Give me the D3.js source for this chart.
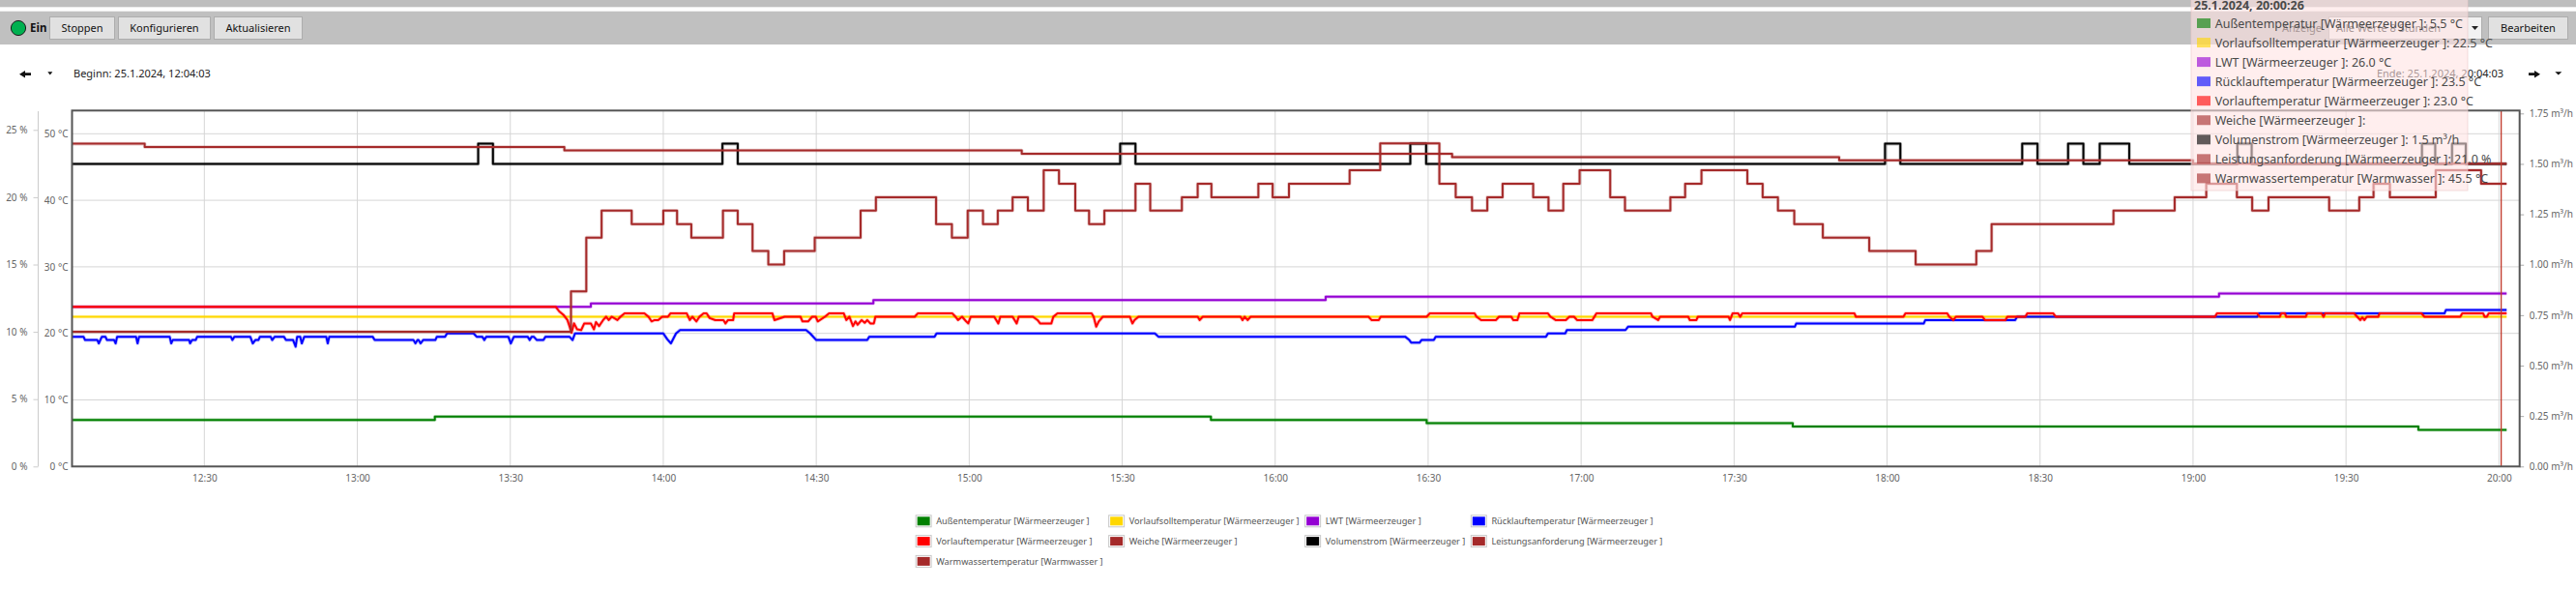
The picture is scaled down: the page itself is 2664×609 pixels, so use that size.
<!DOCTYPE html>
<html lang="de">
<head>
<meta charset="UTF-8">
<title>Verlauf Wärmeerzeuger</title>
<script src="https://cdn.jsdelivr.net/npm/d3@7"></script>
<style>
  body { margin: 0; background: #fff; font-family: "Noto Sans", "Open Sans", sans-serif; }
  svg { display: block; }
  .axis text { fill: #666; font-family: "Noto Sans", sans-serif; font-size: 10px; }
  .legend text { fill: #555; font-size: 9.2px; }
  .tip text { fill: #4a4a4a; font-size: 12.5px; }
</style>
</head>
<body>
<svg id="chart" width="2664" height="609"></svg>
<script>
// ---- data (read from the recorded trend, 25.1.2024) ----
const rangeStart = "12:04:03", rangeEnd = "20:04:03", cursorTime = "20:00:26";

const seriesNames = [
  "Außentemperatur [Wärmeerzeuger ]", "Vorlaufsolltemperatur [Wärmeerzeuger ]",
  "LWT [Wärmeerzeuger ]", "Rücklauftemperatur [Wärmeerzeuger ]",
  "Vorlauftemperatur [Wärmeerzeuger ]", "Weiche [Wärmeerzeuger ]",
  "Volumenstrom [Wärmeerzeuger ]", "Leistungsanforderung [Wärmeerzeuger ]",
  "Warmwassertemperatur [Warmwasser ]"
];
const seriesColors = ["#008000", "#ffd700", "#9400d3", "#0000ff", "#ff0000", "#a52a2a", "#000000", "#a52a2a", "#a52a2a"];

const aussen = [["12:04:03",7.0],["13:15:12",7.5],["15:47:24",7.0],["16:29:42",6.5],["17:41:30",6.0],["19:44:12",5.5],["20:01:30",5.5]];
const vorlaufSoll = [["12:04:03",22.5],["20:01:30",22.5]];
const lwt = [["12:04:03",24.0],["13:45:48",24.5],["14:41:12",25.0],["16:09:54",25.5],["19:05:06",26.0],["20:01:30",26.0]];
const ruecklauf = [
  ["12:04:03",19.5],["12:06:18",19.5],["12:06:36",19.0],["12:09:00",19.0],["12:09:18",18.5],["12:09:54",19.5],
  ["12:10:36",19.5],["12:10:54",19.0],["12:12:18",19.0],["12:12:36",18.5],["12:12:54",19.5],["12:16:36",19.5],
  ["12:16:54",18.5],["12:17:12",19.5],["12:23:12",19.5],["12:23:30",18.5],["12:23:48",19.0],["12:27:00",19.0],
  ["12:27:12",18.5],["12:27:36",19.0],["12:28:18",19.0],["12:28:36",19.5],["12:35:12",19.5],["12:35:30",19.0],
  ["12:35:54",19.5],["12:39:00",19.5],["12:39:30",18.5],["12:40:00",19.0],["12:40:36",19.0],["12:40:54",19.5],
  ["12:43:00",19.5],["12:43:18",19.0],["12:43:48",19.5],["12:45:36",19.5],["12:46:00",19.0],["12:47:24",19.0],
  ["12:47:54",18.0],["12:48:12",19.5],["12:48:48",19.5],["12:49:06",18.5],["12:49:36",19.5],["12:53:54",19.5],
  ["12:54:12",18.5],["12:54:30",19.5],["13:03:00",19.5],["13:03:24",19.0],["13:11:00",19.0],["13:11:24",18.5],
  ["13:11:48",19.0],["13:12:00",19.0],["13:12:24",18.5],["13:12:54",19.0],["13:15:18",19.0],["13:15:36",19.5],
  ["13:17:12",19.5],["13:17:36",20.0],["13:22:48",20.0],["13:23:24",19.5],["13:24:30",19.5],["13:24:54",19.0],
  ["13:25:18",19.5],["13:29:36",19.5],["13:30:06",18.5],["13:30:42",19.5],["13:33:24",19.5],["13:33:48",19.0],
  ["13:34:12",19.5],["13:34:36",19.5],["13:35:12",19.0],["13:36:30",19.0],["13:36:54",19.5],["13:41:36",19.5],
  ["13:42:12",19.0],["13:42:42",20.0],["14:00:00",20.0],["14:00:48",19.1],["14:01:30",18.5],["14:02:30",20.0],
  ["14:03:18",20.5],["14:28:00",20.5],["14:28:48",20.0],["14:30:00",19.0],["14:40:00",19.0],["14:40:24",19.5],
  ["14:53:12",19.5],["14:53:36",20.0],["15:36:24",20.0],["15:37:06",19.5],["16:25:30",19.5],["16:26:18",19.0],
  ["16:26:42",18.6],["16:28:18",18.6],["16:28:42",19.0],["16:31:06",19.0],["16:31:30",19.5],["16:53:06",19.5],
  ["16:53:30",20.0],["16:56:54",20.0],["16:57:12",20.5],["17:08:42",20.5],["17:09:12",21.0],["17:41:54",21.0],
  ["17:42:12",21.5],["18:07:12",21.5],["18:07:30",22.0],["18:25:06",22.0],["18:25:30",22.5],["19:12:36",22.5],
  ["19:12:54",23.0],["19:49:18",23.0],["19:49:36",23.5],["20:01:30",23.5]
];
const vorlauf = [
  ["12:04:03",24.0],["13:38:54",24.0],["13:39:06",23.8],["13:39:36",23.3],["13:40:24",22.8],["13:41:12",22.0],
  ["13:41:36",21.1],["13:42:00",20.1],["13:42:30",21.5],["13:43:06",20.6],["13:43:54",20.5],["13:44:30",21.5],
  ["13:45:48",21.5],["13:46:24",20.6],["13:46:48",21.7],["13:47:24",21.1],["13:48:12",22.0],["13:48:48",22.5],
  ["13:49:18",22.0],["13:49:54",22.5],["13:51:00",22.0],["13:51:36",22.5],["13:52:24",23.0],["13:56:18",23.0],
  ["13:57:06",22.5],["13:57:42",21.8],["13:58:18",22.0],["13:59:00",22.0],["13:59:48",22.5],["14:00:54",22.5],
  ["14:01:24",23.0],["14:04:36",23.0],["14:05:12",22.0],["14:05:42",22.5],["14:06:30",21.8],["14:07:06",22.5],
  ["14:07:54",23.0],["14:08:30",23.0],["14:09:06",22.3],["14:10:12",22.0],["14:11:48",22.0],["14:12:12",21.5],
  ["14:12:42",22.0],["14:13:42",22.0],["14:13:54",23.0],["14:21:24",23.0],["14:21:48",22.0],["14:23:48",22.5],
  ["14:26:54",22.5],["14:27:18",21.8],["14:28:24",21.8],["14:29:12",22.5],["14:29:54",22.5],["14:30:18",21.8],
  ["14:31:42",22.5],["14:32:30",23.0],["14:35:24",23.0],["14:35:54",22.0],["14:36:30",22.5],["14:37:12",21.1],
  ["14:37:42",21.8],["14:38:06",21.3],["14:38:54",22.0],["14:39:30",21.6],["14:40:00",22.0],["14:40:36",21.5],
  ["14:41:18",21.5],["14:41:36",22.5],["14:49:18",22.5],["14:49:54",23.0],["14:56:42",23.0],["14:57:18",22.5],
  ["14:57:48",22.0],["14:58:36",22.5],["14:59:24",21.8],["14:59:48",21.5],["15:00:18",22.5],["15:04:54",22.5],
  ["15:05:42",21.5],["15:06:06",22.5],["15:08:30",22.5],["15:09:18",21.5],["15:09:42",22.5],["15:12:30",22.5],
  ["15:13:24",22.0],["15:13:54",21.5],["15:16:06",21.5],["15:16:30",22.5],["15:17:18",23.0],["15:24:00",23.0],
  ["15:24:24",22.5],["15:24:54",21.0],["15:25:24",21.8],["15:26:12",22.5],["15:31:30",22.5],["15:32:00",21.5],
  ["15:32:24",22.0],["15:33:12",22.5],["15:44:48",22.5],["15:45:12",22.0],["15:45:48",22.5],["15:53:12",22.5],
  ["15:53:36",22.0],["15:54:00",22.5],["15:54:36",22.0],["15:55:12",22.5],["16:18:18",22.5],["16:18:54",22.0],
  ["16:20:18",22.0],["16:20:42",22.5],["16:29:42",22.5],["16:30:18",23.0],["16:39:06",23.0],["16:39:30",22.5],
  ["16:40:24",22.0],["16:43:18",22.0],["16:43:54",22.5],["16:46:18",22.5],["16:46:42",22.0],["16:47:30",22.0],
  ["16:47:54",23.0],["16:53:30",23.0],["16:54:00",22.5],["16:55:00",22.0],["16:57:00",22.0],["16:57:42",22.5],
  ["16:58:36",22.5],["16:59:12",22.0],["17:02:12",22.0],["17:03:00",23.0],["17:13:42",23.0],["17:14:00",22.5],
  ["17:15:06",22.0],["17:15:30",22.5],["17:21:00",22.5],["17:21:18",22.0],["17:22:36",22.0],["17:22:54",22.5],
  ["17:28:54",22.5],["17:29:12",22.0],["17:29:42",23.0],["17:30:48",23.0],["17:31:12",22.5],["17:31:36",23.0],
  ["17:53:36",23.0],["17:53:54",22.5],["18:03:12",22.5],["18:03:36",23.0],["18:11:48",23.0],["18:12:12",22.5],
  ["18:13:00",22.0],["18:13:30",22.5],["18:18:42",22.5],["18:19:12",22.0],["18:23:12",22.0],["18:23:36",22.5],
  ["18:27:06",22.5],["18:27:30",23.0],["18:32:36",23.0],["18:33:06",22.5],["19:04:18",22.5],["19:04:42",23.0],
  ["19:12:36",23.0],["19:13:06",22.5],["19:17:00",22.5],["19:17:18",23.0],["19:18:00",23.0],["19:18:18",22.5],
  ["19:22:06",22.5],["19:22:24",23.0],["19:25:12",23.0],["19:25:36",22.5],["19:25:54",23.0],["19:31:36",23.0],
  ["19:32:12",22.5],["19:32:48",22.0],["19:33:12",22.4],["19:33:36",22.0],["19:34:06",22.5],["19:36:18",22.5],
  ["19:36:36",23.0],["19:44:48",23.0],["19:45:24",22.5],["19:52:24",22.5],["19:52:48",23.0],["19:56:54",23.0],
  ["19:57:12",22.5],["19:57:36",22.5],["19:58:00",23.0],["20:01:30",23.0]
];
const weiche = [];
const volumenstrom = [
  ["12:04:03",1.5],["13:23:42",1.6],["13:26:36",1.5],["14:11:36",1.6],["14:14:36",1.5],["15:29:36",1.6],
  ["15:32:36",1.5],["16:26:30",1.6],["16:29:36",1.5],["17:59:36",1.6],["18:02:36",1.5],["18:26:30",1.6],
  ["18:29:30",1.5],["18:35:30",1.6],["18:38:30",1.5],["18:41:42",1.6],["18:47:30",1.5],["19:08:42",1.6],
  ["19:11:30",1.5],["19:44:54",1.6],["19:47:30",1.5],["19:50:48",1.6],["19:53:30",1.5],["20:01:30",1.5]
];
const leistung = [
  ["12:04:03",10],["13:41:54",13],["13:44:54",17],["13:47:54",19],["13:53:48",18],["14:00:00",19],
  ["14:02:42",18],["14:05:30",17],["14:11:42",19],["14:14:36",18],["14:17:30",16],["14:20:36",15],
  ["14:23:42",16],["14:29:42",17],["14:38:42",19],["14:41:42",20],["14:53:30",18],["14:56:36",17],
  ["14:59:42",19],["15:02:42",18],["15:05:36",19],["15:08:30",20],["15:11:30",19],["15:14:36",22],
  ["15:17:36",21],["15:20:48",19],["15:23:30",18],["15:26:30",19],["15:32:36",21],["15:35:30",19],
  ["15:41:42",20],["15:44:48",21],["15:47:30",20],["15:56:42",21],["15:59:30",20],["16:02:42",21],
  ["16:14:36",22],["16:20:36",24],["16:32:12",21],["16:35:24",20],["16:38:36",19],["16:41:36",20],
  ["16:44:36",21],["16:50:36",20],["16:53:36",19],["16:56:30",21],["16:59:42",22],["17:05:42",20],
  ["17:08:36",19],["17:17:30",20],["17:20:24",21],["17:23:36",22],["17:32:36",21],["17:35:36",20],
  ["17:38:36",19],["17:41:48",18],["17:47:24",17],["17:56:30",16],["18:05:36",15],["18:17:30",16],
  ["18:20:30",18],["18:44:24",19],["18:56:24",20],["19:02:36",21],["19:08:36",20],["19:11:36",19],
  ["19:14:48",20],["19:26:42",19],["19:32:36",20],["19:35:24",21],["19:38:36",20],["19:47:36",22],
  ["19:56:30",21],["20:01:30",21]
];
const warmwasser = [["12:04:03",48.5],["12:18:18",48.0],["13:40:36",47.5],["15:10:18",47.0],["16:34:42",46.5],["17:50:36",46.0],["19:00:00",45.5],["20:01:30",45.5]];

const tempTicks = [0, 10, 20, 30, 40, 50];
const pctTicks = [0, 5, 10, 15, 20, 25];
const flowTicks = [0, 0.25, 0.5, 0.75, 1, 1.25, 1.5, 1.75];

// ---- helpers ----
const parseTime = s => {
  const [h, m, sec] = s.split(":").map(Number);
  return new Date(2024, 0, 25, h, m, sec || 0);
};
const toPoints = arr => arr.map(([t, v]) => ({ t: parseTime(t), v }));

const svg = d3.select("#chart");
const W = 2664;
const plot = { left: 74.5, right: 2605.7, top: 114.3, bottom: 482.3 };

const x = d3.scaleTime()
  .domain([parseTime(rangeStart), parseTime(rangeEnd)])
  .range([plot.left, plot.right]);
const yTemp = d3.scaleLinear().domain([0, 50]).range([plot.bottom, 138.3]);
const yPct = d3.scaleLinear().domain([0, 25]).range([plot.bottom, 134.3]);
const yFlow = d3.scaleLinear().domain([0, 1.75]).range([plot.bottom, 117.3]);

const fmt1 = d3.format(".1f");
const series = [
  { data: aussen, y: yTemp, step: true, unit: " °C" },
  { data: vorlaufSoll, y: yTemp, step: true, unit: " °C" },
  { data: lwt, y: yTemp, step: true, unit: " °C" },
  { data: ruecklauf, y: yTemp, step: false, unit: " °C" },
  { data: vorlauf, y: yTemp, step: false, unit: " °C" },
  { data: weiche, y: yTemp, step: true, unit: " °C" },
  { data: volumenstrom, y: yFlow, step: true, unit: " m³/h" },
  { data: leistung, y: yPct, step: true, unit: " %" },
  { data: warmwasser, y: yTemp, step: true, unit: " °C" }
].map((s, i) => ({ ...s, name: seriesNames[i], color: seriesColors[i], points: toPoints(s.data) }));

// ---- toolbar ----
const bar = svg.append("g");
bar.append("rect").attr("width", W).attr("height", 7.3).attr("fill", "#bebebe");
bar.append("rect").attr("y", 11.7).attr("width", W).attr("height", 34.3).attr("fill", "#c0c0c0");
bar.append("circle").attr("cx", 19).attr("cy", 29).attr("r", 7.6)
  .attr("fill", "#00b050").attr("stroke", "#1b1b1b").attr("stroke-width", 1);
bar.append("text").attr("x", 31).attr("y", 33).attr("font-size", 11.5).attr("font-weight", "bold")
  .attr("fill", "#111").text("Ein");

const buttons = [
  { label: "Stoppen", x: 51.5, w: 67 },
  { label: "Konfigurieren", x: 122.5, w: 95 },
  { label: "Aktualisieren", x: 221.5, w: 91 },
  { label: "Bearbeiten", x: 2573.5, w: 82 }
];
const btn = bar.selectAll("g.btn").data(buttons).join("g").attr("class", "btn");
btn.append("rect").attr("x", d => d.x).attr("y", 17.5).attr("width", d => d.w).attr("height", 23)
  .attr("fill", "#e1e1e1").attr("stroke", "#adadad");
btn.append("text").attr("x", d => d.x + d.w / 2).attr("y", 33.2).attr("text-anchor", "middle")
  .attr("font-size", 11).attr("fill", "#111").text(d => d.label);

bar.append("text").attr("x", 2360).attr("y", 33.2).attr("font-size", 11).attr("fill", "#222").text("Anzeige");
bar.append("rect").attr("x", 2408.5).attr("y", 17.5).attr("width", 158).attr("height", 23)
  .attr("fill", "#f2f2f2").attr("stroke", "#adadad");
bar.append("text").attr("x", 2416).attr("y", 33.2).attr("font-size", 11).attr("fill", "#222").text("Alle Werte 8 Stunden");
bar.append("path").attr("d", "M2556,27 L2563,27 L2559.5,31 Z").attr("fill", "#222");

// navigation row
const nav = svg.append("g");
nav.append("path").attr("d", "M20,76.7 L26,73 L26,75.3 L32,75.3 L32,78.1 L26,78.1 L26,80.4 Z").attr("fill", "#111");
nav.append("path").attr("d", "M49.3,74.2 L54.3,74.2 L51.8,77.6 Z").attr("fill", "#111");
nav.append("text").attr("x", 76).attr("y", 80.2).attr("font-size", 11).attr("fill", "#222")
  .text("Beginn: 25.1.2024, " + rangeStart);
nav.append("text").attr("x", 2589).attr("y", 80.2).attr("text-anchor", "end").attr("font-size", 11)
  .attr("fill", "#222").text("Ende: 25.1.2024, " + rangeEnd);
nav.append("path").attr("d", "M2627,76.7 L2621,73 L2621,75.3 L2615,75.3 L2615,78.1 L2621,78.1 L2621,80.4 Z").attr("fill", "#111");
nav.append("path").attr("d", "M2642.3,74.2 L2649.3,74.2 L2645.8,77.6 Z").attr("fill", "#111");

// ---- grid ----
const timeTicks = x.ticks(d3.timeMinute.every(30));
const grid = svg.append("g").attr("stroke", "#d6d6d6").attr("stroke-width", 1);
grid.selectAll("line.h").data(tempTicks.filter(d => d > 0)).join("line")
  .attr("x1", plot.left).attr("x2", plot.right)
  .attr("y1", d => yTemp(d)).attr("y2", d => yTemp(d));
grid.selectAll("line.v").data(timeTicks).join("line")
  .attr("x1", d => x(d)).attr("x2", d => x(d))
  .attr("y1", plot.top).attr("y2", plot.bottom);

// ---- axes ----
const pctAxis = svg.append("g").attr("class", "axis").attr("transform", "translate(39.5,0)")
  .call(d3.axisLeft(yPct).tickValues(pctTicks).tickSize(5).tickPadding(6).tickFormat(d => d + " %"));
pctAxis.select(".domain").remove();
pctAxis.selectAll(".tick line").attr("stroke", "#ccc");
svg.append("line").attr("x1", 39.5).attr("x2", 39.5).attr("y1", 115).attr("y2", plot.bottom)
  .attr("stroke", "#ccc");

const tempAxis = svg.append("g").attr("class", "axis").attr("transform", `translate(${plot.left},0)`)
  .call(d3.axisLeft(yTemp).tickValues(tempTicks).tickSize(0).tickPadding(4).tickFormat(d => d + " °C"));
tempAxis.select(".domain").remove();

const flowAxis = svg.append("g").attr("class", "axis").attr("transform", `translate(${plot.right},0)`)
  .call(d3.axisRight(yFlow).tickValues(flowTicks).tickSize(4.5).tickPadding(5.5)
    .tickFormat(d => d3.format(".2f")(d) + " m³/h"));
flowAxis.select(".domain").remove();
flowAxis.selectAll(".tick line").attr("stroke", "#aaa");

const timeAxis = svg.append("g").attr("class", "axis").attr("transform", `translate(0,${plot.bottom})`)
  .call(d3.axisBottom(x).tickValues(timeTicks).tickSize(0).tickPadding(9).tickFormat(d3.timeFormat("%H:%M")));
timeAxis.select(".domain").remove();

// ---- series ----
svg.append("clipPath").attr("id", "plot-clip").append("rect")
  .attr("x", plot.left).attr("y", plot.top)
  .attr("width", plot.right - plot.left).attr("height", plot.bottom - plot.top);

const lines = svg.append("g").attr("clip-path", "url(#plot-clip)");
series.filter(s => s.points.length).forEach(s => {
  const line = d3.line().x(d => x(d.t)).y(d => s.y(d.v))
    .curve(s.step ? d3.curveStepAfter : d3.curveLinear);
  lines.append("path").datum(s.points)
    .attr("fill", "none").attr("stroke", s.color).attr("stroke-opacity", 0.25)
    .attr("stroke-width", 3.6).attr("stroke-linejoin", "round").attr("d", line);
  lines.append("path").datum(s.points)
    .attr("fill", "none").attr("stroke", s.color)
    .attr("stroke-width", 2).attr("stroke-linejoin", "round").attr("d", line);
});

// cursor
const tCursor = parseTime(cursorTime);
svg.append("line").attr("x1", x(tCursor)).attr("x2", x(tCursor))
  .attr("y1", plot.top).attr("y2", plot.bottom)
  .attr("stroke", "#c0392b").attr("stroke-width", 1.3);

// frame
svg.append("rect").attr("x", plot.left).attr("y", plot.top)
  .attr("width", plot.right - plot.left).attr("height", plot.bottom - plot.top)
  .attr("fill", "none").attr("stroke", "#555").attr("stroke-width", 2);

// ---- legend ----
const cols = 4;
const legend = svg.append("g").attr("class", "legend");
const items = legend.selectAll("g").data(series).join("g");
items.append("rect").attr("x", 0.5).attr("y", -5.5).attr("width", 16).attr("height", 12)
  .attr("fill", "#fff").attr("stroke", "#c8c8c8");
items.append("rect").attr("x", 2).attr("y", -4).attr("width", 13).attr("height", 9)
  .attr("fill", d => d.color);
items.append("text").attr("x", 21.6).attr("y", 0.5).attr("dy", "0.35em").text(d => d.name);

const colW = [];
items.each(function (d, i) {
  const w = this.querySelector("text").getComputedTextLength();
  colW[i % cols] = Math.max(colW[i % cols] || 0, w);
});
const colX = [];
let acc = 0;
colW.forEach((w, c) => { colX[c] = acc; acc += 21.6 + w + 5.5; });
const legendX = 1333 - (acc - 5.5) / 2;
items.attr("transform", (d, i) =>
  `translate(${legendX + colX[i % cols]},${538.3 + Math.floor(i / cols) * 20.8})`);

// ---- tooltip at cursor ----
const bis = d3.bisector(d => d.t).right;
const valueAt = s => {
  const i = bis(s.points, tCursor) - 1;
  return i >= 0 ? s.points[i].v : null;
};
const tip = svg.append("g").attr("class", "tip");
tip.append("rect").attr("x", 2266).attr("y", -8).attr("width", 286).attr("height", 205)
  .attr("fill", "rgb(255,226,226)").attr("fill-opacity", 0.6)
  .attr("stroke", "rgb(235,200,200)").attr("stroke-opacity", 0.6);
tip.append("text").attr("x", 2269).attr("y", 10).attr("font-weight", "bold").attr("font-size", 12.3)
  .attr("fill", "#3a3a3a").text("25.1.2024, " + cursorTime);
const rows = tip.selectAll("g.row").data(series).join("g").attr("class", "row")
  .attr("transform", (d, i) => `translate(2272,${24 + i * 20.05})`);
rows.append("rect").attr("x", 0).attr("y", -5).attr("width", 14).attr("height", 10)
  .attr("fill", d => d.color).attr("fill-opacity", 0.62);
rows.append("text").attr("x", 18.7).attr("y", 0).attr("dy", "0.36em")
  .text(d => {
    const v = valueAt(d);
    return d.name + ":" + (v === null ? "" : " " + fmt1(v) + d.unit);
  });
</script>
</body>
</html>
